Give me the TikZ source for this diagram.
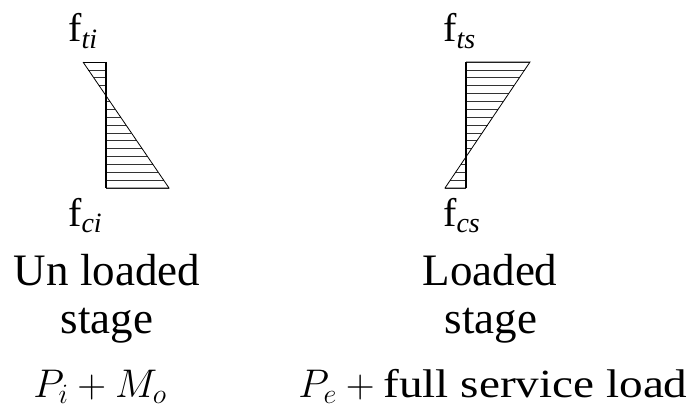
\RequirePackage{fix-cm}
\documentclass[tikz,border=0pt]{standalone}
\usepackage{fontspec}
\setmainfont{Liberation Serif}
\newfontfamily\widerm[FakeStretch=1.18]{Liberation Serif}

\tikzset{
  edge/.style={line width=0.8pt},
  axis/.style={line width=2pt},
  hatch/.style={line width=0.6pt, black!80},
  flbl/.style={anchor=base west, inner sep=0pt, font=\fontsize{40}{44}\selectfont},
  stagelbl/.style={anchor=base, inner sep=0pt, font=\fontsize{45}{54}\selectfont},
  loadlbl/.style={anchor=base, inner sep=0pt, font=\fontsize{40}{48}\selectfont},
}

\begin{document}
\begin{tikzpicture}[x=1pt, y=-1pt]
    \useasboundingbox (0,0) rectangle (691,412);

    % unloaded stage: stress block
    \coordinate (ltop) at (106,62);
    \coordinate (lbot) at (106,188);
    \coordinate (ltip) at (83,62);
    \coordinate (lend) at (169,188);
    \foreach \k in {0,...,16} {
        \pgfmathsetmacro{\yy}{62+\k*7.875}
        \draw[hatch] (106,\yy) -- ({83+(\yy-62)*86/126},\yy);
    }
    \draw[edge] (ltip) -- (ltop);
    \draw[edge] (ltip) -- (lend) -- (lbot);
    \draw[axis] (ltop) -- (lbot);

    % loaded stage: stress block
    \coordinate (rtop) at (466,62);
    \coordinate (rbot) at (466,188);
    \coordinate (rtip) at (530,62);
    \coordinate (rend) at (445,188);
    \foreach \k in {0,...,16} {
        \pgfmathsetmacro{\yy}{62+\k*7.875}
        \draw[hatch] (466,\yy) -- ({530-(\yy-62)*85/126},\yy);
    }
    \draw[edge] (rtop) -- (rtip) -- (rend) -- (rbot);
    \draw[axis] (rtop) -- (rbot);

    % stress labels
    \node[flbl] (fti) at (68,42) {f\textsubscript{\textit{ti}}};
    \node[flbl] (fci) at (68,226) {f\textsubscript{\textit{ci}}};
    \node[flbl] (fts) at (443,42) {f\textsubscript{\textit{ts}}};
    \node[flbl] (fcs) at (443,226) {f\textsubscript{\textit{cs}}};

    % stage captions
    \node[stagelbl] (unl) at (107,285) {Un loaded};
    \node[stagelbl] (unst) at (107,333) {stage};
    \node[loadlbl] (unld) at (100,397) {$P_i + M_o$};
    \node[stagelbl] (ld) at (490,285) {Loaded};
    \node[stagelbl] (ldst) at (491,333) {stage};
    \node[loadlbl] (ldld) at (493,397) {$P_e + \mbox{\widerm full service load}$};
\end{tikzpicture}
\end{document}
